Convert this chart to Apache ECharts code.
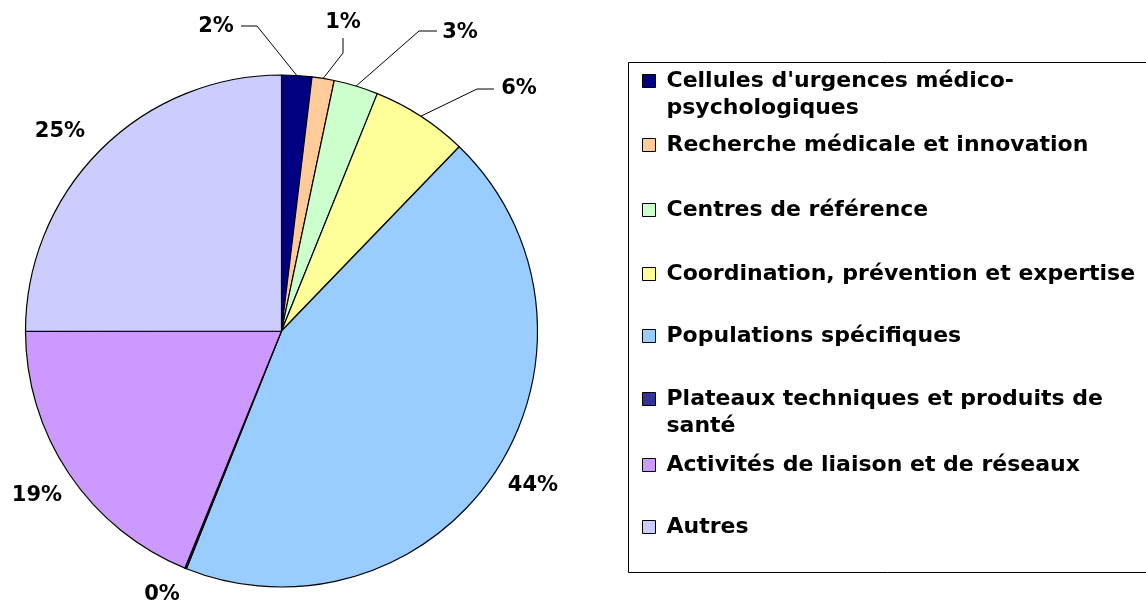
<!DOCTYPE html>
<html>
<head>
<meta charset="utf-8">
<script src="https://cdn.jsdelivr.net/npm/echarts@6/dist/echarts.min.js"></script>
<style>
html,body{margin:0;padding:0;background:#fff;}
#c{width:1146px;height:603px;}
</style>
</head>
<body>
<div id="c"></div>
<script>
const categories = [
  "Cellules d'urgences médico-psychologiques",
  "Recherche médicale et innovation",
  "Centres de référence",
  "Coordination, prévention et expertise",
  "Populations spécifiques",
  "Plateaux techniques et produits de santé",
  "Activités de liaison et de réseaux",
  "Autres"
];
const values = [1.9, 1.4, 2.8, 6.1, 43.8, 0.1, 18.8, 25.0];
const legendLabels = [
  "Cellules d'urgences médico-\npsychologiques",
  "Recherche médicale et innovation",
  "Centres de référence",
  "Coordination, prévention et expertise",
  "Populations spécifiques",
  "Plateaux techniques et produits de\nsanté",
  "Activités de liaison et de réseaux",
  "Autres"
];
const colors = ['#000080','#FFCC99','#CCFFCC','#FFFF99','#99CCFF','#333399','#CC99FF','#CCCCFF'];

// layout (not data)
const CX = 281.5, CY = 331, R = 256;
const FONT = 'DejaVu Sans';
const labelSpots = [
  {x:216, y:27, line:[[257,26],[241,26]]},
  {x:343, y:23, line:[[343,53],[343,38]]},
  {x:460, y:33, line:[[419,31],[437,31]]},
  {x:519, y:89, line:[[477,89],[494,89]]},
  {x:533, y:486},
  {x:162, y:595},
  {x:37,  y:496},
  {x:60,  y:132}
];
const legendCenters = [81, 145, 210, 274, 336, 399, 465, 527];
const LH = 27;

const total = values.reduce((a,b)=>a+b,0);
function anchor(i){
  let cum = 0;
  for (let k=0;k<i;k++) cum += values[k];
  const mid = (cum + values[i]/2) / total * Math.PI * 2;
  return [CX + R*Math.sin(mid), CY - R*Math.cos(mid)];
}

const legends = categories.map((name, i) => {
  const twoLine = legendLabels[i].indexOf('\n') >= 0;
  return {
    data: [name],
    orient: 'vertical',
    left: 642,
    top: twoLine ? legendCenters[i] - 1.5*LH : legendCenters[i] - LH/2,
    padding: 0,
    itemWidth: 13,
    itemHeight: 13,
    icon: 'rect',
    selectedMode: false,
    formatter: () => (twoLine ? '\n' : '') + legendLabels[i],
    itemStyle: {borderColor:'#000', borderWidth:1},
    textStyle: {
      fontFamily: FONT, fontWeight: 'bold', fontSize: 22, color: '#000',
      lineHeight: LH,
      padding: [0,0,0,6]
    }
  };
});

const chart = echarts.init(document.getElementById('c'), null, {renderer:'canvas'});
chart.setOption({
  animation: false,
  backgroundColor: '#fff',
  color: colors,
  legend: legends,
  graphic: [{
    type: 'rect',
    shape: {x: 628.5, y: 62.5, width: 600, height: 510},
    style: {fill: 'none', stroke: '#000', lineWidth: 1},
    silent: true,
    z: -1
  }],
  series: [{
    type: 'pie',
    center: [CX, CY],
    radius: R,
    startAngle: 90,
    clockwise: true,
    avoidLabelOverlap: false,
    itemStyle: {borderColor: '#000', borderWidth: 1.2},
    emphasis: {disabled: true},
    label: {
      show: true,
      position: 'outside',
      fontFamily: FONT, fontWeight: 'bold', fontSize: 21, color: '#000',
      formatter: p => Math.round(p.value / total * 100) + '%'
    },
    labelLine: {show: true, lineStyle: {color: '#000', width: 1}},
    labelLayout: function (p) {
      const s = labelSpots[p.dataIndex];
      const res = {x: s.x, y: s.y, align: 'center', verticalAlign: 'middle'};
      const a = anchor(p.dataIndex);
      res.labelLinePoints = s.line ? [a, s.line[0], s.line[1]] : [a, a, a];
      return res;
    },
    data: categories.map((n, i) => ({name: n, value: values[i]}))
  }]
});
</script>
</body>
</html>
